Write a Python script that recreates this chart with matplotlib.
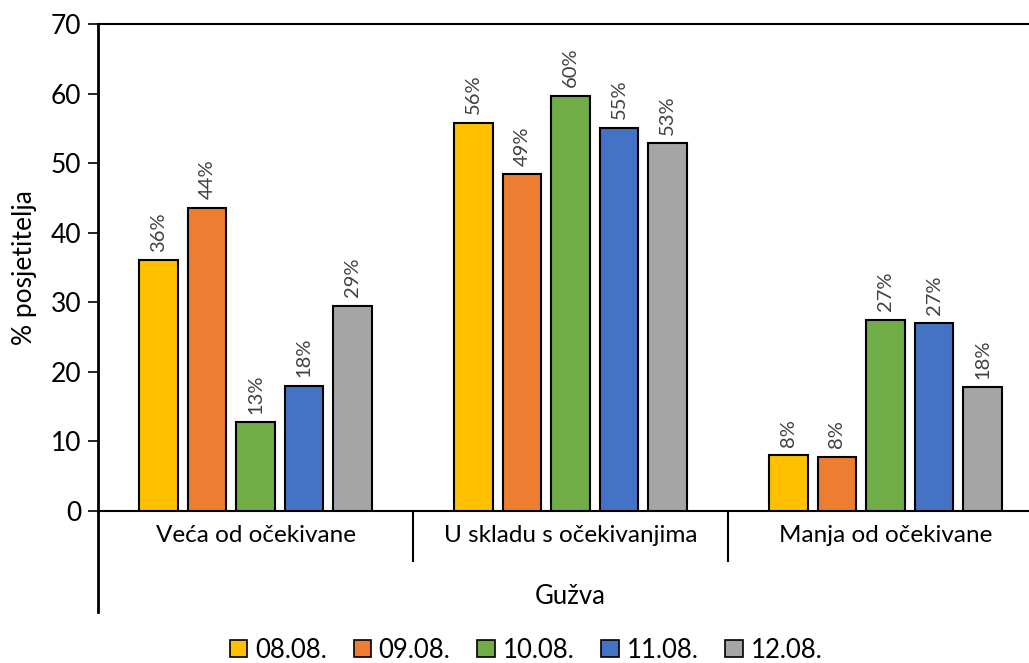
import matplotlib
matplotlib.use("Agg")
import matplotlib.pyplot as plt
from matplotlib.patches import Patch
from matplotlib.lines import Line2D
import numpy as np

categories = ["Veća od očekivane", "U skladu s očekivanjima", "Manja od očekivane"]
series_names = ["08.08.", "09.08.", "10.08.", "11.08.", "12.08."]
values = {
    "08.08.": [36.1, 55.8, 8.0],
    "09.08.": [43.6, 48.4, 7.8],
    "10.08.": [12.8, 59.7, 27.5],
    "11.08.": [18.0, 55.1, 27.0],
    "12.08.": [29.5, 52.9, 17.8],
}
labels = {
    "08.08.": ["36%", "56%", "8%"],
    "09.08.": ["44%", "49%", "8%"],
    "10.08.": ["13%", "60%", "27%"],
    "11.08.": ["18%", "55%", "27%"],
    "12.08.": ["29%", "53%", "18%"],
}
colors = ["#FFC000", "#ED7D31", "#70AD47", "#4472C4", "#A5A5A5"]
yticks = [0, 10, 20, 30, 40, 50, 60, 70]

plt.rcParams['font.family'] = ['Lato', 'DejaVu Sans']

W, H = 1029, 663
fig = plt.figure(figsize=(W / 100, H / 100), dpi=100)
left, right, bottom, top = 98, 1043, 511, 24
ax = fig.add_axes([left / W, (H - bottom) / H, (right - left) / W, (bottom - top) / H])

x = np.arange(len(categories))
bw = 0.121
step = 0.154
for i, (name, c) in enumerate(zip(series_names, colors)):
    pos = x + (i - 2) * step
    bars = ax.bar(pos, values[name], width=bw, color=c, edgecolor="black", linewidth=1.5, zorder=3)
    for b, lab in zip(bars, labels[name]):
        ax.annotate(lab, (b.get_x() + b.get_width() / 2, b.get_height()),
                    xytext=(0, 6), textcoords="offset points", rotation=90,
                    ha="center", va="bottom", fontsize=14.5, color="#404040")

ax.set_xlim(-0.5, 2.5)
ax.set_ylim(0, 70)
ax.set_yticks(yticks)
ax.tick_params(axis="y", direction="out", length=7, width=1.2, labelsize=19, pad=5, colors="black")
ax.set_xticks(x)
ax.set_xticklabels(categories)
ax.set_xticks([0.5, 1.5, 2.5], minor=True)
ax.tick_params(axis="x", which="major", length=0, labelsize=17.5, pad=10)
ax.tick_params(axis="x", which="minor", direction="out", length=37, width=1.5)

for s in ["top", "bottom"]:
    ax.spines[s].set_linewidth(1.5)
ax.spines["left"].set_linewidth(2)
ax.spines["right"].set_visible(False)

# extended left axis line down past the category labels
ax.add_line(Line2D([0, 0], [0, -(612 - 511) / (bottom - top)], transform=ax.transAxes,
                   color="black", linewidth=2, clip_on=False))

ax.set_ylabel("% posjetitelja", fontsize=19, labelpad=10)
fig.text(570 / W, 1 - 597 / H, "Gužva", ha="center", va="center", fontsize=18.5)

handles = [Patch(facecolor=c, edgecolor="black", linewidth=1.2) for c in colors]
fig.legend(handles, series_names, loc="center", bbox_to_anchor=(526 / W, 1 - 650 / H), ncol=5,
           frameon=False, fontsize=18.5, handlelength=0.68, handleheight=0.68, handletextpad=0.3,
           columnspacing=1.05, borderaxespad=0)

fig.savefig("out.png", dpi=100)
